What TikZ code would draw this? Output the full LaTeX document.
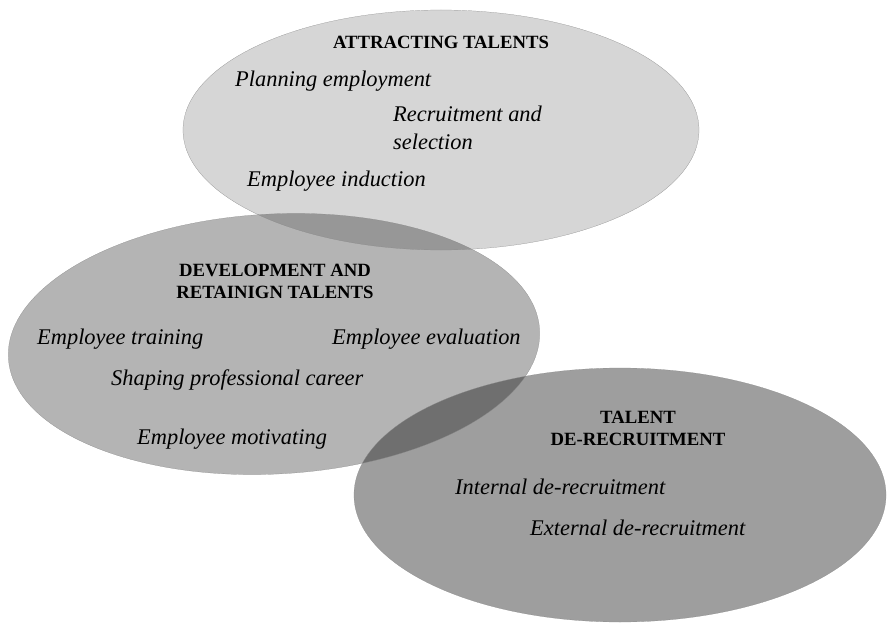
\documentclass[tikz,border=0pt]{standalone}
\usepackage{fontspec}
\setmainfont{Liberation Serif}
\usepackage{xcolor}
\definecolor{ring-light}{HTML}{D6D6D6}
\definecolor{ring-mid}{HTML}{B4B4B4}
\definecolor{ring-dark}{HTML}{9E9E9E}
\definecolor{ring-edge}{HTML}{8A8A8A}

\begin{document}
\begin{tikzpicture}[x=1pt, y=-1pt,
    every node/.style={inner sep=0pt},
    head/.style={font=\fontsize{18.7}{22}\selectfont\bfseries, align=center},
    item/.style={font=\fontsize{22.4}{28}\selectfont\itshape, anchor=west, align=left}]
    \useasboundingbox (0, 0) rectangle (887, 623);
    % the three overlapping fields
    \begin{scope}[blend group=multiply]
      \fill[ring-light] (441, 130) ellipse [x radius=258, y radius=120];
      \fill[ring-mid, rotate around={3:(274,344)}] (274, 344) ellipse [x radius=266, y radius=130];
      \fill[ring-dark] (620, 495) ellipse [x radius=266, y radius=127];
    \end{scope}
    \draw[ring-edge, very thin] (441, 130) ellipse [x radius=258, y radius=120];
    \draw[ring-edge, very thin, rotate around={3:(274,344)}] (274, 344) ellipse [x radius=266, y radius=130];
    \draw[ring-edge, very thin] (620, 495) ellipse [x radius=266, y radius=127];
    % attracting
    \node[head] (att) at (441, 42) {ATTRACTING TALENTS};
    \node[item] (plan) at (235, 81) {Planning employment};
    \node[item] (recr) at (393, 128) {Recruitment and\\selection};
    \node[item] (ind) at (247, 181) {Employee induction};
    % development
    \node[head] (dev) at (275, 281) {DEVELOPMENT AND\\RETAINIGN TALENTS};
    \node[item] (train) at (37, 339) {Employee training};
    \node[item] (eval) at (332, 339) {Employee evaluation};
    \node[item] (career) at (111, 380) {Shaping professional career};
    \node[item] (motiv) at (137, 439) {Employee motivating};
    % de-recruitment
    \node[head] (derec) at (638, 428) {TALENT\\DE-RECRUITMENT};
    \node[item] (intern) at (455, 487) {Internal de-recruitment};
    \node[item] (extern) at (530, 528) {External de-recruitment};
\end{tikzpicture}
\end{document}
